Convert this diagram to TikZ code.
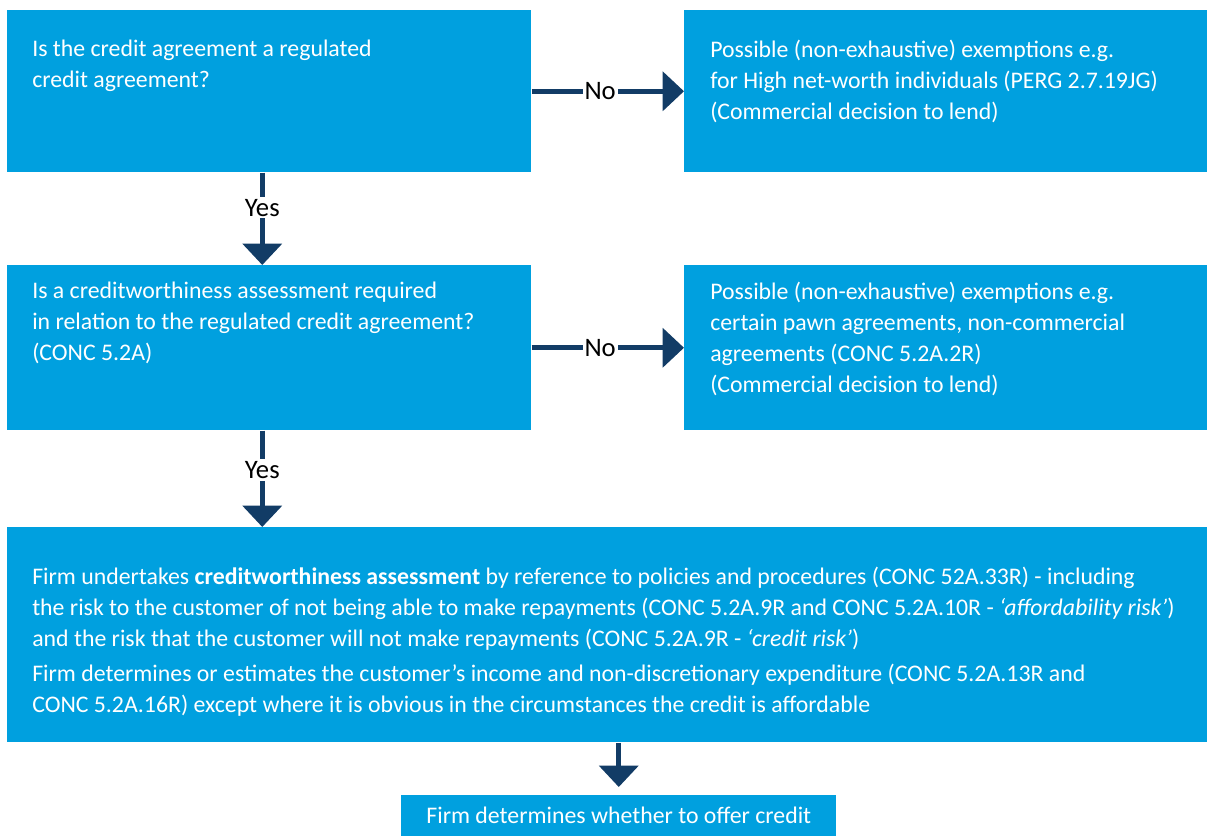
\documentclass[tikz,border=0pt]{standalone}
\usepackage{fontspec}
\setmainfont{Carlito}
\usetikzlibrary{arrows.meta, positioning, calc}
\definecolor{fcablue}{RGB}{0,160,223}
\definecolor{fcanavy}{RGB}{18,60,102}
\tikzset{
    flowbox/.style={fill=fcablue, draw=none, inner sep=0pt, anchor=north west},
    boxtext/.style={text=white, align=left, anchor=north west, inner sep=0pt,
        font=\fontsize{17.85pt}{23.25pt}\selectfont},
    flowarrow/.style={draw=fcanavy, line width=3.75pt,
        -{Triangle[width=29pt, length=16pt]}},
    % answer on the arrow, white fill breaks the line
    answer/.style={fill=white, text=black, inner sep=1.5pt,
        font=\fontsize{20pt}{22pt}\selectfont},
}

\begin{document}
\begin{tikzpicture}[x=0.75pt, y=-0.75pt]
    \useasboundingbox (0,0) rectangle (1207,836);

    % questions and exemptions
    \node[flowbox, minimum width=524*0.75pt, minimum height=162*0.75pt] (q1) at (7,10) {};
    \node[flowbox, minimum width=523*0.75pt, minimum height=162*0.75pt] (ex1) at (684,10) {};
    \node[flowbox, minimum width=524*0.75pt, minimum height=165*0.75pt] (q2) at (7,265) {};
    \node[flowbox, minimum width=523*0.75pt, minimum height=165*0.75pt] (ex2) at (684,265) {};
    \node[flowbox, minimum width=1200*0.75pt, minimum height=215*0.75pt] (assess) at (7,527) {};
    \node[flowbox, minimum width=435*0.75pt, minimum height=41*0.75pt] (offer) at (401,795) {};

    \node[boxtext] (q1text) at (32,40) {Is the credit agreement a regulated\\credit agreement?};
    \node[boxtext] (ex1text) at (710,40) {Possible (non-exhaustive) exemptions e.g.\\for High net-worth individuals (PERG 2.7.19JG)\\(Commercial decision to lend)};
    \node[boxtext] (q2text) at (32,282) {Is a creditworthiness assessment required\\in relation to the regulated credit agreement?\\(CONC 5.2A)};
    \node[boxtext] (ex2text) at (710,282) {Possible (non-exhaustive) exemptions e.g.\\certain pawn agreements, non-commercial\\agreements (CONC 5.2A.2R)\\(Commercial decision to lend)};
    \node[boxtext] (assesstext) at (32,567) {Firm undertakes \textbf{creditworthiness assessment} by reference to policies and procedures (CONC 52A.33R) - including\\the risk to the customer of not being able to make repayments (CONC 5.2A.9R and CONC 5.2A.10R - \textit{‘affordability risk’})\\and the risk that the customer will not make repayments (CONC 5.2A.9R - \textit{‘credit risk’})\\[3pt]Firm determines or estimates the customer’s income and non-discretionary expenditure (CONC 5.2A.13R and\\CONC 5.2A.16R) except where it is obvious in the circumstances the credit is affordable};
    \node[boxtext, anchor=center] (offertext) at (offer.center) {Firm determines whether to offer credit};

    % connectors
    \draw[flowarrow] (q1) -- (ex1) node[answer, pos=0.45] {No};
    \draw[flowarrow] (q2) -- (ex2) node[answer, pos=0.45] {No};
    \draw[flowarrow] ([xshift=-7*0.75pt]q1.south) -- ([xshift=-7*0.75pt]q2.north) node[answer, pos=0.38] {Yes};
    \draw[flowarrow] ([xshift=-7*0.75pt]q2.south) -- ([xshift=-7*0.75pt]q2.south |- assess.north) node[answer, pos=0.41] {Yes};
    \draw[flowarrow, shorten >=8*0.75pt] (assess.south -| offer.north) -- (offer.north);
\end{tikzpicture}
\end{document}
